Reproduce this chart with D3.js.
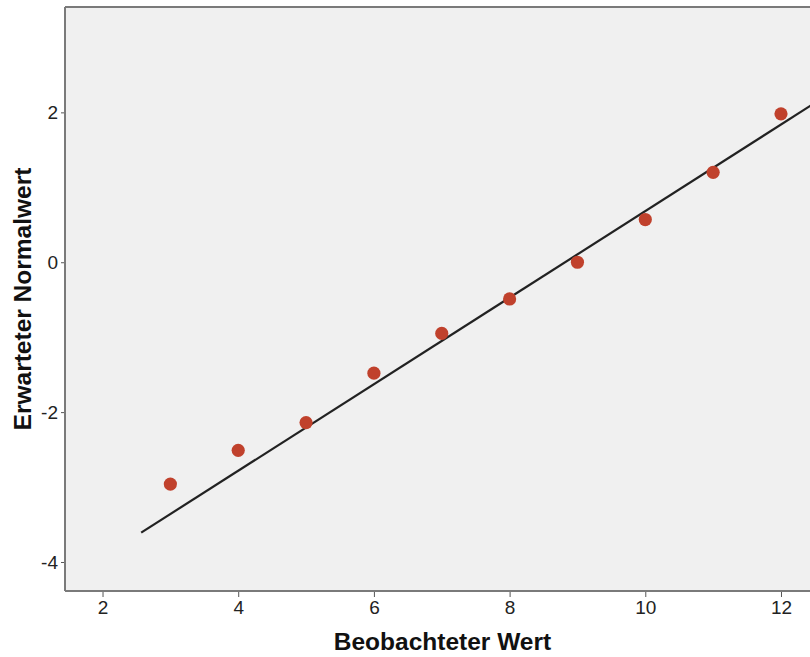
<!DOCTYPE html>
<html>
<head>
<meta charset="utf-8">
<script src="https://cdn.jsdelivr.net/npm/d3@7/dist/d3.min.js"></script>
<style>
  html, body { margin: 0; padding: 0; background: #fff; }
  svg { display: block; }
</style>
</head>
<body>
<svg id="chart" width="810" height="657"></svg>
<script>
// Observed values and the expected normal quantiles (Q-Q plot)
const observed = [3, 4, 5, 6, 7, 8, 9, 10, 11, 12];
const expected = [-2.96, -2.51, -2.14, -1.48, -0.95, -0.49, 0.0, 0.57, 1.20, 1.98];
// Reference line of the fitted normal distribution
const lineMean = 8.818;
const lineSd = 1.7316;
const lineX = [2.57, 12.7];
const xTicks = [2, 4, 6, 8, 10, 12];
const yTicks = [-4, -2, 0, 2];

const svg = d3.select("#chart");
const plot = { left: 65, top: 7, right: 820, bottom: 591 };

const x = d3.scaleLinear().domain([1.447, 12.575]).range([plot.left, plot.right]);
const y = d3.scaleLinear().domain([-4.387, 3.406]).range([plot.bottom, plot.top]);

svg.append("defs").append("clipPath").attr("id", "clip")
  .append("rect")
  .attr("x", plot.left).attr("y", plot.top)
  .attr("width", plot.right - plot.left).attr("height", plot.bottom - plot.top);

// Plot background
svg.append("rect")
  .attr("x", plot.left).attr("y", plot.top)
  .attr("width", plot.right - plot.left).attr("height", plot.bottom - plot.top)
  .attr("fill", "#f0f0f0");

const font = "Arial, 'Liberation Sans', sans-serif";
const fmt = d => String(d); // plain hyphen for negative numbers

// Axes
const xAxis = svg.append("g")
  .attr("transform", `translate(0,${plot.bottom})`)
  .call(d3.axisBottom(x).tickValues(xTicks).tickSize(6).tickPadding(4).tickFormat(fmt));
const yAxis = svg.append("g")
  .attr("transform", `translate(${plot.left},0)`)
  .call(d3.axisLeft(y).tickValues(yTicks).tickSize(4).tickPadding(3).tickFormat(fmt));

[xAxis, yAxis].forEach(g => {
  g.select(".domain").remove();
  g.selectAll(".tick line").attr("stroke", "#555").attr("stroke-width", 1);
  g.selectAll(".tick text")
    .attr("fill", "#222")
    .style("font-family", font)
    .style("font-size", "19px");
});

// Frame lines (left, bottom, top)
const frame = svg.append("g").attr("stroke", "#7a7a7a").attr("stroke-width", 2).attr("fill", "none");
frame.append("line").attr("x1", plot.left).attr("x2", plot.left).attr("y1", plot.top).attr("y2", plot.bottom);
frame.append("line").attr("x1", plot.left).attr("x2", plot.right).attr("y1", plot.bottom).attr("y2", plot.bottom);
frame.append("line").attr("x1", plot.left).attr("x2", plot.right).attr("y1", plot.top).attr("y2", plot.top);

// Reference line
svg.append("line")
  .attr("clip-path", "url(#clip)")
  .attr("x1", x(lineX[0])).attr("y1", y((lineX[0] - lineMean) / lineSd))
  .attr("x2", x(lineX[1])).attr("y2", y((lineX[1] - lineMean) / lineSd))
  .attr("stroke", "#222").attr("stroke-width", 2.2);

// Points
svg.append("g").selectAll("circle")
  .data(observed.map((v, i) => [v, expected[i]]))
  .join("circle")
  .attr("cx", d => x(d[0]))
  .attr("cy", d => y(d[1]))
  .attr("r", 6.6)
  .attr("fill", "#c0412c");

// Axis titles
svg.append("text")
  .attr("x", (plot.left + plot.right) / 2)
  .attr("y", 650)
  .attr("text-anchor", "middle")
  .style("font-family", font)
  .style("font-weight", "bold")
  .style("font-size", "24.5px")
  .attr("fill", "#111")
  .text("Beobachteter Wert");

svg.append("text")
  .attr("transform", `translate(31,${(plot.top + plot.bottom) / 2}) rotate(-90)`)
  .attr("text-anchor", "middle")
  .style("font-family", font)
  .style("font-weight", "bold")
  .style("font-size", "24.5px")
  .attr("fill", "#111")
  .text("Erwarteter Normalwert");
</script>
</body>
</html>
